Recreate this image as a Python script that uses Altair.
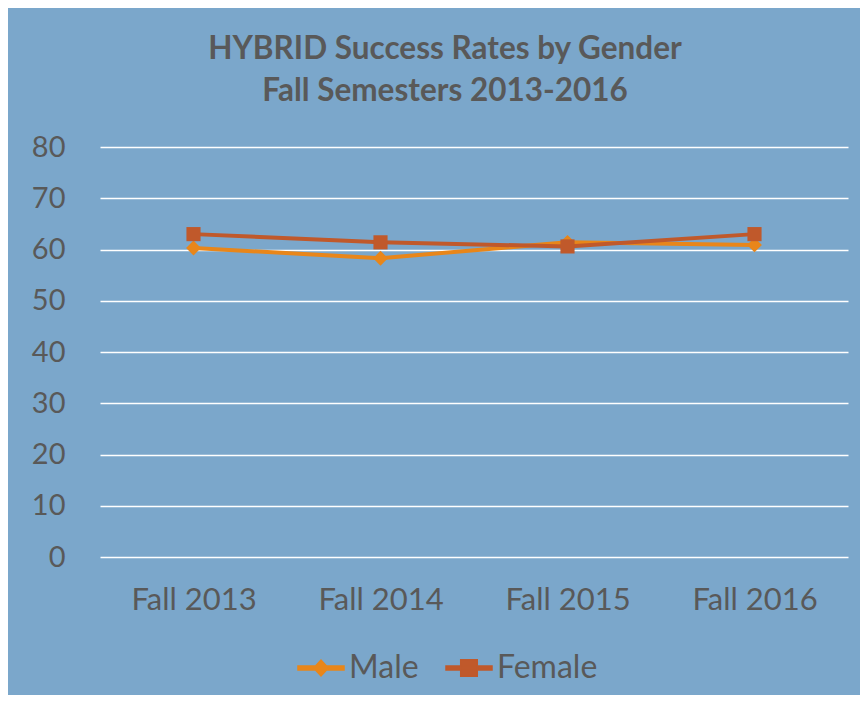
import altair as alt
import pandas as pd

semesters = ["Fall 2013", "Fall 2014", "Fall 2015", "Fall 2016"]
male = [60.3, 58.3, 61.4, 60.9]
female = [63.0, 61.4, 60.6, 63.0]
series = ["Male", "Female"]
colors = ["#E8861A", "#C0592B"]
title_lines = ["HYBRID Success Rates by Gender", "Fall Semesters 2013-2016"]
y_ticks = [0, 10, 20, 30, 40, 50, 60, 70, 80]

rows = []
for s, vals in zip(series, [male, female]):
    for sem, v in zip(semesters, vals):
        rows.append({"Semester": sem, "Rate": v, "Gender": s})
df = pd.DataFrame(rows)

FONT = "Lato"
TXT = "#595959"
BG = "#7BA7CB"

x = alt.X("Semester:N", sort=semesters, title=None,
          axis=alt.Axis(labelAngle=0, labelFontSize=31, labelColor=TXT, labelFont=FONT,
                        labelPadding=28, ticks=False, domain=False, grid=False))
y = alt.Y("Rate:Q", title=None,
          scale=alt.Scale(domain=[0, 80], nice=False),
          axis=alt.Axis(values=y_ticks, labelFontSize=29, labelColor=TXT, labelFont=FONT,
                        labelPadding=35, ticks=False, domain=False, grid=True,
                        gridColor="white", gridWidth=1.3))
color_scale = alt.Scale(domain=series, range=colors)

leg = alt.Legend(title=None, orient="none", direction="horizontal",
                 legendX=197, legendY=497, symbolSize=2116, symbolOpacity=1,
                 labelFontSize=32, labelColor=TXT, labelFont=FONT,
                 labelOffset=4, columnPadding=24, padding=0)

color = alt.Color("Gender:N", scale=color_scale, legend=leg)

lines = alt.Chart(df).mark_line(strokeWidth=4).encode(
    x=x, y=y, color=color, detail="Gender:N")

male_pts = alt.Chart(df).transform_filter(alt.datum.Gender == "Male").mark_point(
    shape="diamond", filled=True, size=220, opacity=1).encode(x=x, y=y, color=color)

female_pts = alt.Chart(df).transform_filter(alt.datum.Gender == "Female").mark_point(
    shape="square", filled=True, size=200, opacity=1).encode(x=x, y=y, color=color)

diamond_path = "M-1,-0.09H1V0.09H-1Z M-0.32,0L0,-0.34L0.32,0L0,0.34Z"
square_path = "M-1,-0.09H1V0.09H-1Z M-0.36,-0.36H0.36V0.36H-0.36Z"

legend_layer = alt.Chart(df).mark_point(filled=True, opacity=0).encode(
    x=x, y=y, color=color,
    shape=alt.Shape("Gender:N", scale=alt.Scale(domain=series, range=[diamond_path, square_path]),
                    legend=leg))

chart = alt.layer(lines, male_pts, female_pts, legend_layer).properties(
    width=748, height=410,
    autosize=alt.AutoSizeParams(type="none"),
    padding={"left": 92, "top": 139, "right": 12, "bottom": 138},
    background=BG,
    title=alt.TitleParams(text=title_lines, fontSize=31.5, font=FONT, fontWeight="bold",
                          color=TXT, anchor="middle", dx=-29, offset=26, lineHeight=42),
).configure_view(stroke=None)

chart.save("out.html", embed_options={"renderer": "svg", "actions": False})
